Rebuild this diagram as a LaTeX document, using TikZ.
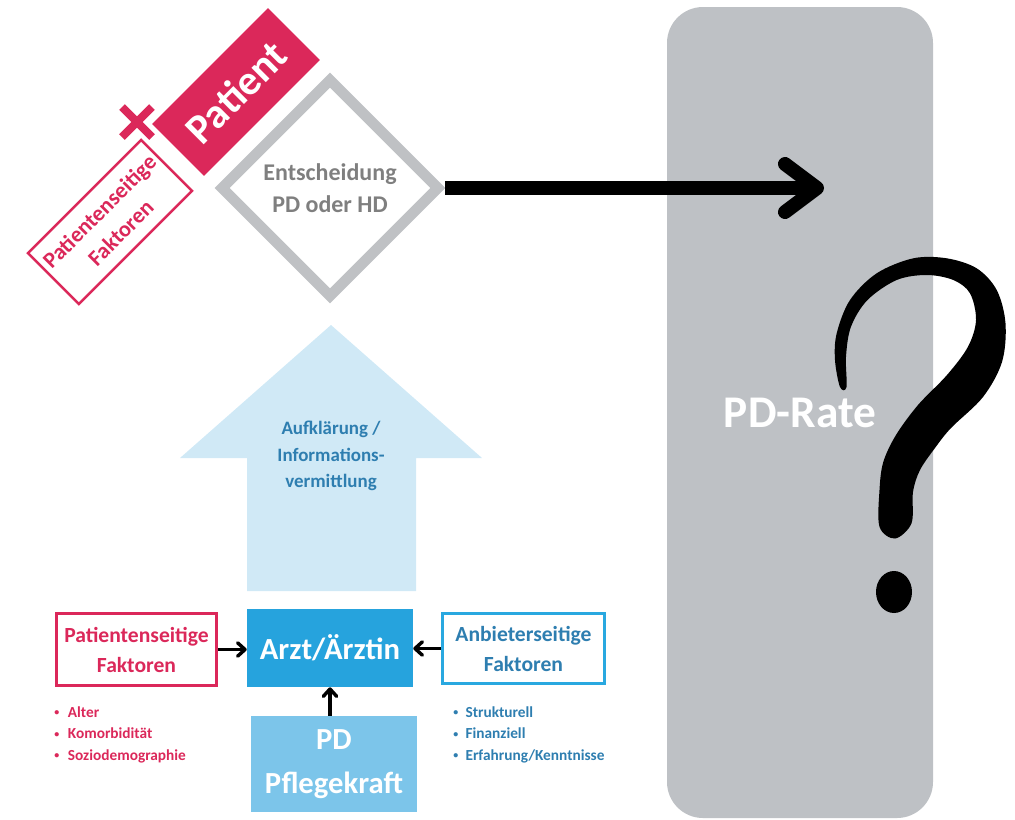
\documentclass[tikz,border=0pt]{standalone}
\usepackage{fontspec}
\setmainfont{Carlito}
\usetikzlibrary{arrows.meta,shapes.geometric}
\definecolor{pred}{RGB}{219,40,90}
\definecolor{gbox}{RGB}{190,193,197}
\definecolor{gline}{RGB}{191,193,196}
\definecolor{gtext}{RGB}{127,127,127}
\definecolor{barzt}{RGB}{38,163,221}
\definecolor{bpfl}{RGB}{124,197,234}
\definecolor{barrow}{RGB}{208,233,246}
\definecolor{btext}{RGB}{46,126,176}
\definecolor{bline}{RGB}{41,168,224}
\newcommand\smallbullet{\raisebox{0.15ex}{\scalebox{0.65}{\textbullet}}}
\begin{document}
\begin{tikzpicture}[x=0.75pt,y=-0.75pt,
  every node/.style={inner sep=0pt},
  factorbox/.style={draw, fill=white, line width=2.25pt, minimum width=120pt,
    minimum height=54pt, align=center, font=\bfseries\fontsize{16.2}{22.5}\selectfont},
  fillbox/.style={minimum width=124.5pt, align=center, text=white,
    font=\bfseries\fontsize{23}{33}\selectfont},
  bullet/.style={anchor=base west, font=\bfseries\fontsize{11.5}{14}\selectfont},
  arr/.style={line width=2.6pt, -{Straight Barb[length=5.5pt,width=10pt,round]}},
  bigarr/.style={line width=10.5pt, -{Straight Barb[length=24pt,width=36pt,round]}}]
\useasboundingbox (0,0) rectangle (1015,819);

% outcome column
\node[fill=gbox, rounded corners=27pt, minimum width=199.5pt, minimum height=608.25pt,
  text=white, font=\bfseries\fontsize{34}{40}\selectfont] (rate) at (800,412.5) {PD-Rate};

% decision diamond
\node[diamond, aspect=1, draw=gline, line width=7.9pt, minimum width=165pt,
  minimum height=165pt, text=gtext, align=center,
  font=\bfseries\fontsize{18}{24}\selectfont] (dia) at (330,188) {Entscheidung\\PD oder HD};

% patient block and its factors
\node[fill=pred, rotate=45, minimum width=123pt, minimum height=55pt, text=white,
  font=\bfseries\fontsize{31.5}{36}\selectfont] (pat) at (236,92) {Patient};
\node[factorbox, draw=pred, text=pred, rotate=45, line width=1.9pt,
  font=\bfseries\fontsize{16.8}{22.5}\selectfont] (pfr) at (110,222) {Patientenseitige\\Faktoren};
\draw[pred, line width=6pt] (122,107) -- (152,137) (152,107) -- (122,137);

% information arrow
\fill[barrow] (331,325) -- (482,458) -- (416,458) -- (416,591) -- (247,591)
  -- (247,458) -- (180,458) -- cycle;
\node[text=btext, align=center, font=\bfseries\fontsize{14.2}{20}\selectfont]
  (info) at (331,456) {Aufklärung /\\Informations-\\vermittlung};

% physician and influences
\node[fillbox, fill=barzt, minimum height=58.5pt] (arzt) at (330,648) {Arzt/Ärztin};
\node[fillbox, fill=bpfl, minimum height=72pt] (pfk) at (334,764) {PD\\Pflegekraft};
\node[factorbox, draw=pred, text=pred] (pfl) at (136.5,649.5) {Patientenseitige\\Faktoren};
\node[factorbox, draw=bline, text=btext, minimum width=121.5pt, minimum height=52.5pt]
  (anb) at (523.5,648.5) {Anbieterseitige\\Faktoren};

\draw[arr] (pfl.east) -- (pfl.east -| arzt.west);
\draw[arr] (anb.west) -- (anb.west -| arzt.east);
\draw[arr] (arzt.south |- pfk.north) -- (arzt.south);

% factor lists
\foreach \t [count=\i] in {Alter,Komorbidität,Soziodemographie}
  \node[bullet, text=pred] (pl\i) at (54,695.5+21.5*\i) {\smallbullet\hspace{6.5pt}\t};
\foreach \t [count=\i] in {Strukturell,Finanziell,Erfahrung/Kenntnisse}
  \node[bullet, text=btext] (al\i) at (453,695.5+21.5*\i) {\smallbullet\hspace{5.5pt}\t};

% decision leads to the rate
\coordinate (ratetip) at (824,188);
\draw[bigarr] (dia.east) -- (ratetip);

% question mark
\fill[black] plot[smooth cycle, tension=0.55] coordinates {
  (840,387) (835,360) (836.7,333.3) (850,300) (876.7,273.3) (913.3,258.3)
  (946.7,258.3) (976.7,268.3) (996.7,290) (1005.5,323.3) (1002,362) (983,397)
  (951,428) (935,448) (920,470) (913,492) (911.5,523.3) (895,538.5)
  (879.5,526.7) (879.5,490) (883.3,462) (896,435) (918,405) (947,375)
  (968,346.7) (976,320) (970,293.3) (953.3,280) (926.7,275) (896.7,280)
  (867.5,300) (851,326.7) (846,356.7) (846.5,387)};
\fill[black] (894,592) ellipse [x radius=18, y radius=21];
\end{tikzpicture}
\end{document}
